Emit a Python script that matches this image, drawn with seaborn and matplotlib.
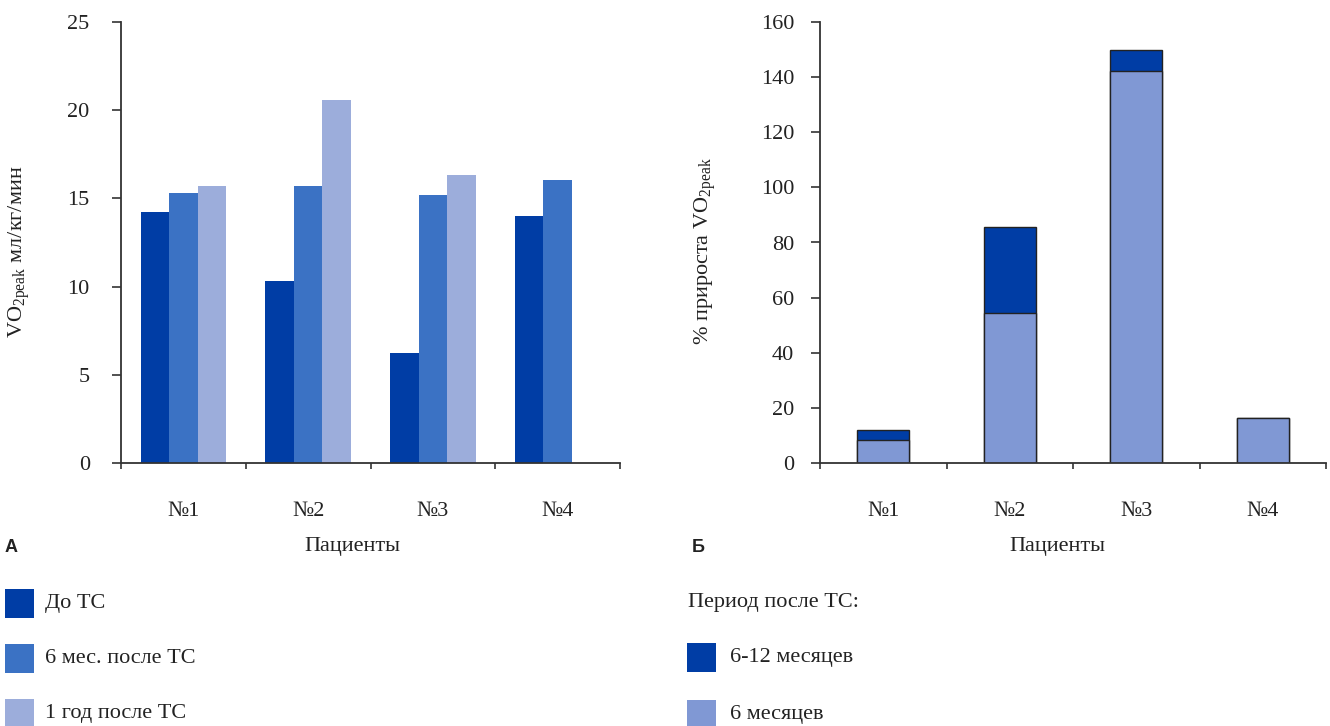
import numpy as np
import pandas as pd
import matplotlib
matplotlib.use("Agg")
import matplotlib.pyplot as plt
import seaborn as sns
from matplotlib.patches import Rectangle

# ---------------- data ----------------
patients = ["№1", "№2", "№3", "№4"]
vo2_before = [14.25, 10.3, 6.25, 14.0]
vo2_6m = [15.3, 15.7, 15.2, 16.05]
vo2_1y = [15.7, 20.55, 16.35, np.nan]
series_a = ["До ТС", "6 мес. после ТС", "1 год после ТС"]
colors_a = ["#003DA5", "#3B72C4", "#9CADDB"]

gain_6m = [8.3, 54.5, 142.3, 16.3]
gain_total = [12.0, 85.6, 149.9, 16.3]
series_b = ["6-12 месяцев", "6 месяцев"]
colors_b = ["#003DA5", "#8098D4"]

yticks_a = [0, 5, 10, 15, 20, 25]
yticks_b = [0, 20, 40, 60, 80, 100, 120, 140, 160]

# ---------------- style ----------------
sns.set_style("ticks")
plt.rcParams["font.family"] = ["Liberation Serif", "DejaVu Serif"]
plt.rcParams["mathtext.fontset"] = "custom"
plt.rcParams["mathtext.rm"] = "Liberation Serif"
plt.rcParams["text.color"] = "#222222"
plt.rcParams["xtick.color"] = "#333333"
plt.rcParams["ytick.color"] = "#333333"
plt.rcParams["xtick.labelcolor"] = "#222222"
plt.rcParams["ytick.labelcolor"] = "#222222"

W, H = 1330, 726
fig = plt.figure(figsize=(W / 100, H / 100), dpi=100)
fig.patch.set_facecolor("white")

def fx(px):
    return px / W

def fy(py):
    return 1 - py / H

ax1 = fig.add_axes([fx(121), fy(463), fx(499), 441 / H])
ax2 = fig.add_axes([fx(820), fy(463), fx(506), 441 / H])

# ---------------- panel A ----------------
df_a = pd.DataFrame({
    "patient": patients * 3,
    "period": np.repeat(series_a, len(patients)),
    "value": vo2_before + vo2_6m + vo2_1y,
})
sns.barplot(data=df_a, x="patient", y="value", hue="period", hue_order=series_a,
            order=patients, palette=colors_a, width=0.686, saturation=1,
            errorbar=None, legend=False, linewidth=0, ax=ax1)
ax1.set_ylim(0, 25)
ax1.set_yticks(yticks_a)

# ---------------- panel B ----------------
sns.barplot(x=patients, y=gain_total, order=patients, color=colors_b[0], width=0.41,
            saturation=1, edgecolor="#222222", linewidth=1.0, errorbar=None, ax=ax2)
sns.barplot(x=patients, y=gain_6m, order=patients, color=colors_b[1], width=0.41,
            saturation=1, edgecolor="#222222", linewidth=1.0, errorbar=None, ax=ax2)
ax2.set_ylim(0, 160)
ax2.set_yticks(yticks_b)

for ax, ypad in ((ax1, 16), (ax2, 12)):
    ax.set_xlim(-0.5, 3.5)
    ax.set_xlabel("")
    ax.set_ylabel("")
    for s in ("top", "right"):
        ax.spines[s].set_visible(False)
    for s in ("left", "bottom"):
        ax.spines[s].set_color("#333333")
        ax.spines[s].set_linewidth(1.3)
    ax.set_xticks([-0.5, 0.5, 1.5, 2.5, 3.5], minor=True)
    ax.tick_params(axis="x", which="major", length=0, pad=28, labelsize=16)
    ax.tick_params(axis="x", which="minor", length=4.5, width=1.2, direction="out")
    ax.tick_params(axis="y", which="major", length=6.5, width=1.2, direction="out",
                   pad=ypad, labelsize=16)
    ax.set_facecolor("white")

# ---------------- texts ----------------
fig.text(fx(20), fy(252), r"VO$_{\mathregular{2peak}}$ мл/кг/мин", rotation=90,
         ha="center", va="center", fontsize=16)
fig.text(fx(706), fy(251), r"% прироста VO$_{\mathregular{2peak}}$", rotation=90,
         ha="center", va="center", fontsize=16)

fig.text(fx(352), fy(546), "Пациенты", ha="center", va="center", fontsize=16)
fig.text(fx(1057), fy(546), "Пациенты", ha="center", va="center", fontsize=16)

fig.text(fx(5), fy(548), "А", ha="left", va="center", fontsize=13,
         fontweight="bold", family=["Liberation Sans", "DejaVu Sans"])
fig.text(fx(692), fy(548), "Б", ha="left", va="center", fontsize=13,
         fontweight="bold", family=["Liberation Sans", "DejaVu Sans"])

# legend A
for i, (lab, col) in enumerate(zip(series_a, colors_a)):
    yc = 603.5 + 55 * i
    fig.add_artist(Rectangle((fx(5), fy(yc + 14.5)), fx(29), 29 / H,
                             transform=fig.transFigure, facecolor=col, edgecolor="none"))
    fig.text(fx(45), fy(yc), lab, ha="left", va="center", fontsize=16)

# legend B
fig.text(fx(688), fy(603), "Период после ТС:", ha="left", va="center", fontsize=16)
for i, (lab, col) in enumerate(zip(series_b, colors_b)):
    yc = 657.5 + 57 * i
    fig.add_artist(Rectangle((fx(687), fy(yc + 14.5)), fx(29), 29 / H,
                             transform=fig.transFigure, facecolor=col, edgecolor="none"))
    fig.text(fx(730), fy(yc), lab, ha="left", va="center", fontsize=16)

fig.savefig("out.png", dpi=100, facecolor="white")
